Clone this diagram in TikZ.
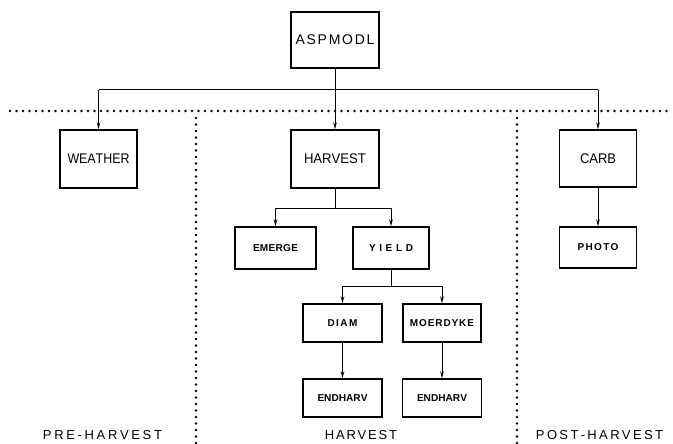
\documentclass[tikz,border=0pt]{standalone}
\usepackage{fontspec}
\setmainfont{Liberation Sans}
\usetikzlibrary{arrows.meta}
\makeatletter
\newcommand\spacedtxt[2]{\def\sp@k{#1}\sp@a#2\@nil}
\def\sp@a#1#2\@nil{#1\ifx\relax#2\relax\else\kern\sp@k\sp@a#2\@nil\fi}
\makeatother
\newcommand\fit[3]{\resizebox{#1pt}{\height}{\spacedtxt{#2pt}{#3}}}
\begin{document}
\begin{tikzpicture}[x=1pt,y=-1pt,
  box/.style={draw,line width=1.4pt,inner sep=0pt,anchor=center},
  bigbox/.style={box,font=\fontsize{14}{14}\selectfont},
  smallbox/.style={box,font=\bfseries\fontsize{10}{10}\selectfont},
  lbl/.style={font=\fontsize{13}{13}\selectfont,inner sep=0pt},
  conn/.style={line width=1pt},
  arr/.style={conn,-{Stealth[length=7pt,width=3.6pt]}},
  dots/.style={line width=2.6pt,line cap=round,dash pattern=on 0pt off 6.5pt}]
\useasboundingbox (0,0) rectangle (673,444);
% dotted separators
\draw[dots] (10,111) -- (673,111);
\draw[dots] (196,118) -- (196,444);
\draw[dots] (517,118) -- (517,444);
% nodes
\node[bigbox,minimum width=88pt,minimum height=56pt] (asp) at (335,40) {\fit{79}{1.75}{ASPMODL}};
\node[bigbox,minimum width=77pt,minimum height=58pt] (weather) at (98.5,159) {\fit{62}{0}{WEATHER}};
\node[bigbox,minimum width=88pt,minimum height=58pt] (harvest) at (335,159) {\fit{62}{0}{HARVEST}};
\node[bigbox,minimum width=77pt,minimum height=57pt] (carb) at (598,158.5) {\fit{36}{0}{CARB}};
\node[smallbox,minimum width=81pt,minimum height=42pt] (emerge) at (275.5,248) {\fit{45}{0.3}{EMERGE}};
\node[smallbox,minimum width=76pt,minimum height=42pt] (yield) at (391,248) {\fit{44}{3.6}{YIELD}};
\node[smallbox,minimum width=77pt,minimum height=41pt] (photo) at (598,247.5) {\fit{41}{1.35}{PHOTO}};
\node[smallbox,minimum width=79pt,minimum height=38pt] (diam) at (342.5,323) {\fit{30}{1.5}{DIAM}};
\node[smallbox,minimum width=78pt,minimum height=38pt] (moer) at (442,323) {\fit{64}{0.9}{MOERDYKE}};
\node[smallbox,minimum width=79pt,minimum height=38pt] (endA) at (342.5,398) {\fit{50}{0}{ENDHARV}};
\node[smallbox,minimum width=79pt,minimum height=38pt] (endB) at (442,398) {\fit{50}{0}{ENDHARV}};
% region labels
\node[lbl] (pre) at (102.5,435.5) {\fit{119}{2.65}{PRE-HARVEST}};
\node[lbl] (har) at (361,435.5) {\fit{72}{1.77}{HARVEST}};
\node[lbl] (post) at (599.5,435.5) {\fit{127}{2.37}{POST-HARVEST}};
% connectors
\coordinate (tb) at (335,90);
\draw[conn] (asp.south) -- (tb);
\draw[conn] (weather.north |- tb) -- (carb.north |- tb);
\draw[arr] (weather.north |- tb) -- (weather.north);
\draw[arr] (tb) -- (harvest.north);
\draw[arr] (carb.north |- tb) -- (carb.north);
\coordinate (hb) at (335,208);
\draw[conn] (harvest.south) -- (hb);
\draw[conn] (emerge.north |- hb) -- (yield.north |- hb);
\draw[arr] (emerge.north |- hb) -- (emerge.north);
\draw[arr] (yield.north |- hb) -- (yield.north);
\coordinate (yb) at (391,286);
\draw[conn] (yield.south) -- (yb);
\draw[conn] (diam.north |- yb) -- (moer.north |- yb);
\draw[arr] (diam.north |- yb) -- (diam.north);
\draw[arr] (moer.north |- yb) -- (moer.north);
\draw[arr] (diam.south) -- (endA.north);
\draw[arr] (moer.south) -- (endB.north);
\draw[arr] (carb.south) -- (photo.north);
\end{tikzpicture}
\end{document}
